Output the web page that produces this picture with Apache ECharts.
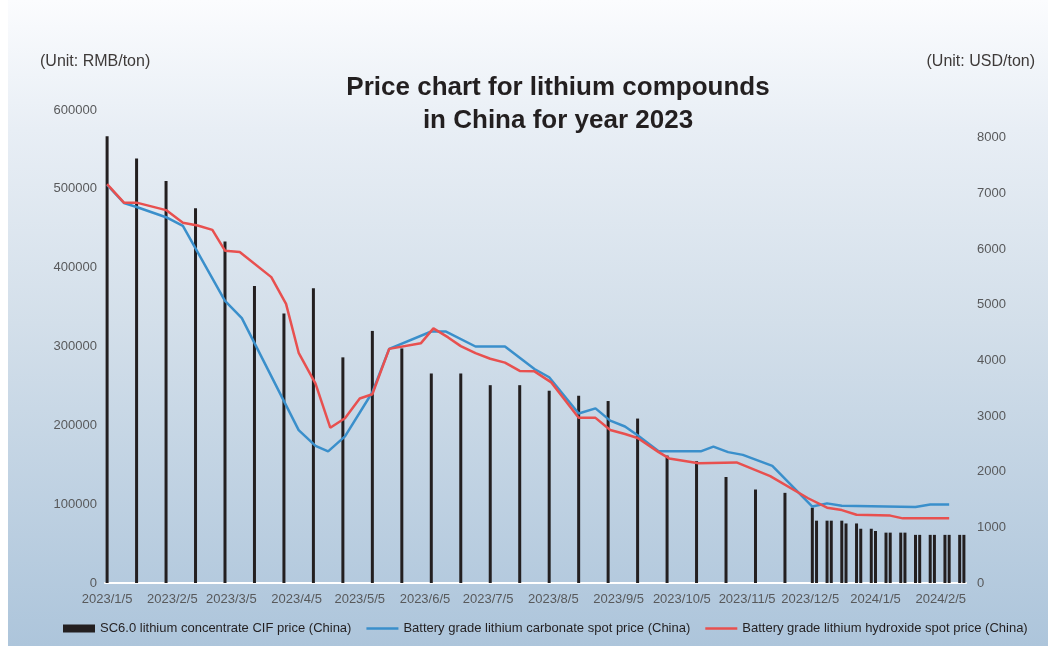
<!DOCTYPE html>
<html>
<head>
<meta charset="utf-8">
<title>Price chart for lithium compounds in China for year 2023</title>
<script src="https://cdn.jsdelivr.net/npm/echarts@6/dist/echarts.min.js"></script>
<style>
  html, body { margin: 0; padding: 0; background: #ffffff; }
  #chart {
    position: absolute; left: 8px; top: 0; width: 1040px; height: 646px;
    background: linear-gradient(to bottom, #fbfcfe 0%, #e8eef5 20%, #d3dfea 50%, #adc5db 100%);
  }
</style>
</head>
<body>
<div id="chart"></div>
<script>
// SC6.0 lithium concentrate CIF price (China), USD/ton
const barDates = [
  '2023-01-05','2023-01-19','2023-02-02','2023-02-16','2023-03-02','2023-03-16','2023-03-30','2023-04-13',
  '2023-04-27','2023-05-11','2023-05-25','2023-06-08','2023-06-22','2023-07-06','2023-07-20','2023-08-03',
  '2023-08-17','2023-08-31','2023-09-14','2023-09-28','2023-10-12','2023-10-26','2023-11-09','2023-11-23',
  '2023-12-06','2023-12-08','2023-12-13','2023-12-15','2023-12-20','2023-12-22','2023-12-27','2023-12-29',
  '2024-01-03','2024-01-05','2024-01-10','2024-01-12','2024-01-17','2024-01-19','2024-01-24','2024-01-26',
  '2024-01-31','2024-02-02','2024-02-07','2024-02-09','2024-02-14','2024-02-16'
];
const concentrateUSD = [
  8030, 7630, 7225, 6735, 6135, 5335, 4845, 5295,
  4055, 4530, 4215, 3765, 3765, 3555, 3555, 3455,
  3365, 3270, 2955, 2290, 2190, 1905, 1680, 1620,
  1355, 1120, 1120, 1120, 1120, 1070, 1070, 975,
  975, 935, 905, 905, 905, 905, 865, 865,
  865, 865, 865, 865, 865, 865
];

// Battery grade lithium carbonate spot price (China), RMB/ton
const carbonateDates = [
  '2023-01-05','2023-01-13','2023-01-19','2023-02-02','2023-02-10','2023-03-02','2023-03-10','2023-04-06',
  '2023-04-14','2023-04-20','2023-04-28','2023-05-11','2023-05-19','2023-06-08','2023-06-15','2023-06-29',
  '2023-07-13','2023-07-27','2023-08-03','2023-08-17','2023-08-25','2023-09-01','2023-09-08','2023-09-14',
  '2023-09-24','2023-10-14','2023-10-20','2023-10-27','2023-11-03','2023-11-17','2023-12-06','2023-12-13',
  '2023-12-20','2024-01-24','2024-01-31','2024-02-09'
];
const carbonateRMB = [
  505000, 482000, 477000, 464000, 453000, 358000, 336000, 194000,
  174000, 167000, 186000, 242000, 297000, 319000, 319000, 300000,
  300000, 271500, 261000, 215000, 221500, 206000, 198500, 187500,
  167000, 167000, 173000, 166000, 162500, 148500, 97000, 101000,
  98000, 96500, 99500, 99500
];

// Battery grade lithium hydroxide spot price (China), RMB/ton
const hydroxideDates = [
  '2023-01-05','2023-01-13','2023-01-19','2023-02-02','2023-02-10','2023-02-17','2023-02-24','2023-03-02',
  '2023-03-09','2023-03-24','2023-03-31','2023-04-06','2023-04-14','2023-04-21','2023-04-28','2023-05-05',
  '2023-05-11','2023-05-19','2023-06-03','2023-06-09','2023-06-16','2023-06-22','2023-06-29','2023-07-06',
  '2023-07-13','2023-07-20','2023-07-27','2023-08-04','2023-08-17','2023-08-25','2023-09-01','2023-09-08',
  '2023-09-14','2023-09-24','2023-09-29','2023-10-13','2023-10-31','2023-11-16','2023-12-04','2023-12-13',
  '2023-12-20','2023-12-27','2024-01-12','2024-01-18','2024-02-09'
];
const hydroxideRMB = [
  506000, 482500, 482500, 473000, 457000, 453500, 448000, 421500,
  420000, 388000, 354000, 292000, 253000, 197000, 209000, 234000,
  239500, 297000, 304000, 323000, 311500, 300500, 291500, 284500,
  279500, 269000, 268500, 254500, 209500, 209500, 194000, 189000,
  184000, 166000, 158000, 152000, 153000, 135500, 107500, 95500,
  92500, 86500, 85500, 82000, 82000
];

// Dates shown under the horizontal axis
const axisLabelDates = [
  '2023-01-05','2023-02-05','2023-03-05','2023-04-05','2023-05-05','2023-06-05','2023-07-05',
  '2023-08-05','2023-09-05','2023-10-05','2023-11-05','2023-12-05','2024-01-05','2024-02-05'
];

const seriesNames = [
  'SC6.0 lithium concentrate CIF price (China)',
  'Battery grade lithium carbonate spot price (China)',
  'Battery grade lithium hydroxide spot price (China)'
];

function ts(s) {
  const p = s.split('-').map(Number);
  return Date.UTC(p[0], p[1] - 1, p[2]);
}
function fmtDate(v) {
  const d = new Date(v);
  return d.getUTCFullYear() + '/' + (d.getUTCMonth() + 1) + '/' + d.getUTCDate();
}
function pairs(dates, values) {
  return dates.map((d, i) => [ts(d), values[i]]);
}

const FONT = '"Liberation Sans", Arial, Helvetica, sans-serif';
const labelColor = '#58595b';
const textColor = '#231f20';
const BLUE = '#3a8fcb';
const RED = '#e8504f';
// thin bar used as the legend swatch of the two line series
const lineSwatch = 'path://M0,0H32V2.5H0Z';

const chart = echarts.init(document.getElementById('chart'), null, { renderer: 'canvas' });

chart.setOption({
  backgroundColor: 'transparent',
  animation: false,
  textStyle: { fontFamily: FONT },
  graphic: [
    { type: 'text', x: 550, y: 88, style: { text: 'Price chart for lithium compounds', font: 'bold 26px ' + FONT, fill: textColor, textAlign: 'center', textVerticalAlign: 'middle' } },
    { type: 'text', x: 550, y: 121, style: { text: 'in China for year 2023', font: 'bold 26px ' + FONT, fill: textColor, textAlign: 'center', textVerticalAlign: 'middle' } },
    { type: 'text', x: 32, y: 62, style: { text: '(Unit: RMB/ton)', font: '16px ' + FONT, fill: '#3e3a39', textAlign: 'left', textVerticalAlign: 'middle' } },
    { type: 'text', x: 1027, y: 62, style: { text: '(Unit: USD/ton)', font: '16px ' + FONT, fill: '#3e3a39', textAlign: 'right', textVerticalAlign: 'middle' } }
  ],
  legend: {
    left: 55,
    top: 622,
    padding: 0,
    itemWidth: 32,
    itemHeight: 8,
    itemGap: 15,
    textStyle: { fontSize: 13, color: textColor, fontFamily: FONT },
    data: [
      { name: seriesNames[0], icon: 'rect' },
      { name: seriesNames[1], icon: lineSwatch },
      { name: seriesNames[2], icon: lineSwatch }
    ]
  },
  grid: { left: 97, right: 82, top: 110, bottom: 63 },
  xAxis: {
    type: 'value',
    min: ts('2023-01-04'),
    max: ts('2024-02-17'),
    splitLine: { show: false },
    axisTick: { show: false },
    axisLine: { show: true, onZero: false, lineStyle: { color: '#ffffff', width: 2 } },
    axisLabel: {
      customValues: axisLabelDates.map(ts),
      formatter: fmtDate,
      color: labelColor,
      fontSize: 13,
      margin: 10,
      hideOverlap: false
    }
  },
  yAxis: [
    {
      type: 'value',
      min: 0, max: 600000, interval: 100000,
      axisLine: { show: false },
      axisTick: { show: false },
      splitLine: { show: false },
      axisLabel: { color: labelColor, fontSize: 13, margin: 8, formatter: v => String(v) }
    },
    {
      type: 'value',
      position: 'right',
      min: 0, max: 8500, interval: 1000,
      axisLine: { show: false },
      axisTick: { show: false },
      splitLine: { show: false },
      axisLabel: {
        color: labelColor, fontSize: 13, margin: 11,
        formatter: v => (v % 1000 === 0 ? String(v) : '')
      }
    }
  ],
  series: [
    {
      name: seriesNames[0],
      type: 'bar',
      yAxisIndex: 1,
      barWidth: 3,
      itemStyle: { color: '#231f20' },
      data: pairs(barDates, concentrateUSD)
    },
    {
      name: seriesNames[1],
      type: 'line',
      yAxisIndex: 0,
      symbol: 'none',
      lineStyle: { color: BLUE, width: 2.5 },
      itemStyle: { color: BLUE },
      data: pairs(carbonateDates, carbonateRMB),
      z: 3
    },
    {
      name: seriesNames[2],
      type: 'line',
      yAxisIndex: 0,
      symbol: 'none',
      lineStyle: { color: RED, width: 2.5 },
      itemStyle: { color: RED },
      data: pairs(hydroxideDates, hydroxideRMB),
      z: 4
    }
  ]
});
</script>
</body>
</html>
